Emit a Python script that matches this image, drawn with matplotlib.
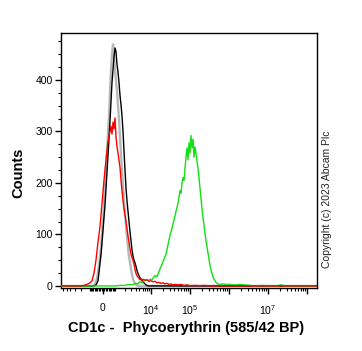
import numpy as np
import matplotlib
matplotlib.use("Agg")
import matplotlib.pyplot as plt

plt.rcParams['font.family'] = ['Liberation Sans', 'DejaVu Sans']
plt.rcParams['mathtext.default'] = 'regular'

# histogram data, x in channels (0-256), y in counts
gray_ch = [0, 32, 34, 36, 38, 40, 42, 44, 46, 48, 49, 50, 51, 52, 53, 54, 55, 56, 57, 58,
           59, 60, 61, 62, 63, 64, 65, 66, 67, 68, 69, 70, 71, 72, 73, 74, 75, 77, 256]
gray_counts = [0, 0, 4, 15, 40, 75, 125, 190, 262, 330, 375, 420, 450, 469, 445, 420, 398, 380, 350, 325,
               290, 255, 225, 195, 165, 140, 118, 95, 75, 57, 45, 33, 22, 14, 8, 5, 2, 0, 0]

black_ch = [0, 33, 35, 37, 40, 44, 47, 49, 51, 52, 53, 54, 55, 56, 57, 58, 59, 60, 61, 62,
            63, 64, 65, 66, 67, 68, 69, 70, 71, 72, 73, 74, 75, 76, 77, 79, 81, 83, 85, 87, 256]
black_counts = [0, 0, 2, 10, 60, 157, 253, 320, 395, 420, 445, 462, 455, 430, 415, 395, 370, 352, 330, 300,
                262, 225, 190, 165, 145, 125, 105, 88, 70, 58, 50, 45, 38, 30, 24, 16, 10, 6, 2, 0, 0]

red_ch = [0, 19, 23, 26, 29, 31, 33, 35, 37, 39, 41, 43, 45, 47, 49, 50, 51, 52, 53, 54,
          55, 56, 57, 58, 59, 60, 61, 62, 63, 64, 65, 66, 67, 68, 69, 70, 71, 72, 73, 74,
          75, 76, 77, 78, 79, 80, 81, 82, 84, 86, 88, 90, 92, 94, 96, 98, 100, 102, 104, 106,
          108, 110, 112, 114, 117, 120, 123, 126, 129, 134, 139, 144, 149, 256]
red_counts = [0, 0, 1, 3, 6, 10, 25, 50, 85, 115, 160, 205, 245, 280, 300, 310, 295, 318, 305, 326,
              290, 270, 258, 244, 230, 205, 185, 166, 150, 138, 125, 110, 97, 85, 72, 62, 55, 50, 42, 32,
              24, 20, 17, 15, 12, 14, 10, 13, 11, 12, 9, 10, 8, 9, 6, 7, 5, 6, 4, 5,
              3, 4, 2, 3, 2, 3, 1, 2, 0.5, 1, 0.5, 1, 0, 0]

green_ch = [0, 54, 59, 64, 69, 72, 74, 77, 79, 81, 84, 87, 89, 91, 94, 96, 99, 101, 103, 105,
            107, 109, 111, 113, 115, 117, 119, 120, 121, 122, 123, 124, 125, 126, 127, 128, 129, 130, 131, 132,
            133, 134, 135, 136, 137, 138, 139, 140, 141, 142, 143, 144, 145, 146, 147, 148, 149, 150, 151, 152,
            153, 154, 155, 157, 159, 162, 165, 169, 174, 179, 184, 189, 194, 201, 209, 217, 219, 221, 223, 256]
green_counts = [0, 0, 1, 1, 3, 2, 5, 4, 8, 6, 12, 10, 13, 12, 20, 18, 33, 42, 52, 62,
                80, 98, 112, 128, 145, 160, 185, 180, 200, 210, 205, 228, 250, 268, 245, 278, 258, 292, 268, 285,
                250, 270, 258, 242, 228, 210, 190, 170, 150, 133, 118, 102, 88, 76, 64, 52, 40, 32, 24, 18,
                13, 10, 7, 4, 3, 4, 3, 3, 2, 3, 2, 1, 0, 1, 0, 0, 2, 2, 0, 0]

major_vals = [0, 1e4, 1e5, 1e6, 1e7, 1e8]
major_labels = ['0', '$10^4$', '$10^5$', '', '$10^7$', '']


def to_channel(v):
    # biexponential-like display transform
    return 42 + 39 * np.arcsinh(np.asarray(v, dtype=float) / 1175.0) / np.log(10)


minor_vals = [s * k * 100 for s in (-1, 1) for k in range(1, 10)]
minor_vals += [-k * 1000 for k in range(1, 7)]
for e in range(3, 8):
    minor_vals += [k * 10 ** e for k in range(2, 10)]

fig = plt.figure(figsize=(3.62, 3.51), dpi=100)
ax = fig.add_axes([61 / 362, 1 - 288 / 351, 256 / 362, 255 / 351])

ax.plot(gray_ch, gray_counts, color='#b8b8b8', lw=1.7, zorder=2)
ax.plot(black_ch, black_counts, color='black', lw=1.0, zorder=3)
ax.plot(green_ch, green_counts, color='#11e011', lw=1.0, zorder=4)
ax.plot(red_ch, red_counts, color='#ff0000', lw=1.0, zorder=5)

ax.set_xlim(0, 256)
ax.set_ylim(-4, 491)

ax.set_xticks(to_channel(major_vals))
ax.set_xticklabels(major_labels)
mv = to_channel(minor_vals)
ax.set_xticks(mv[(mv > 0) & (mv < 256)], minor=True)
ax.set_yticks([0, 100, 200, 300, 400])
ax.set_yticks(np.arange(0, 500, 25), minor=True)

ax.tick_params(which='major', length=4, width=1, labelsize=7.5, pad=2)
ax.tick_params(which='minor', length=2.2, width=0.8)
ax.tick_params(axis='x', which='major', pad=7)
for s in ax.spines.values():
    s.set_linewidth(1.0)

ax.set_ylabel('Counts', fontsize=10.5, fontweight='bold')
ax.yaxis.set_label_coords(-0.14, 0.45)
ax.set_xlabel('CD1c -  Phycoerythrin (585/42 BP)', fontsize=10.5, fontweight='bold')
ax.xaxis.set_label_coords(0.49, -0.13)

fig.text(327 / 362, 1 - 199 / 351, 'Copyright (c) 2023 Abcam Plc', rotation=90,
         fontsize=7.5, ha='center', va='center', color='#222222')

fig.savefig('out.png', dpi=100)
